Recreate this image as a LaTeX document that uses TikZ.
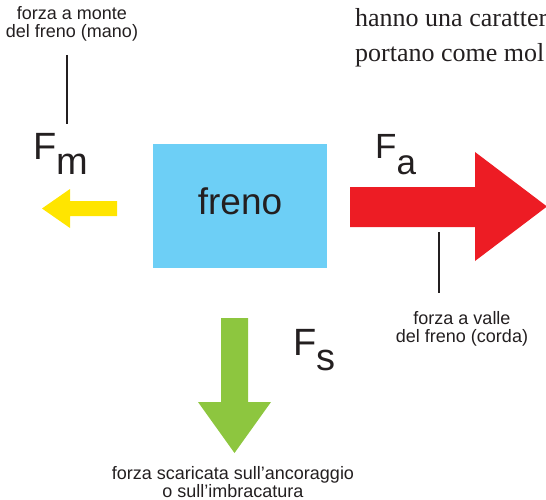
\documentclass[tikz,border=0pt]{standalone}
\usepackage{fontspec}
\setmainfont{Liberation Sans}
\newfontfamily\bookfont{Liberation Serif}
\usepackage{tikz}
\usetikzlibrary{positioning}

\definecolor{inkgray}{HTML}{231F20}
\definecolor{frenoblue}{HTML}{6DCFF6}
\definecolor{monteyellow}{HTML}{FFE500}
\definecolor{vallered}{HTML}{ED1C24}
\definecolor{scaricagreen}{HTML}{8DC63F}

\begin{document}
\begin{tikzpicture}[
  x=1pt, y=-1pt,
  every node/.style={inner sep=0pt,text=inkgray},
  note/.style={align=center,font=\fontsize{18}{18}\selectfont},
  force/.style={anchor=base west,font=\fontsize{38}{38}\selectfont},
  booktext/.style={anchor=base west,font=\bookfont\fontsize{26}{26}\selectfont},
  leader/.style={draw=inkgray,line width=1.1pt}
]
  \useasboundingbox (0,0) rectangle (546,500);

  % text of the page behind the figure
  \node[booktext] (riga1) at (355,27) {hanno una caratter};
  \node[booktext] (riga2) at (355,62) {portano come mol};

  % the brake
  \node[fill=frenoblue,minimum width=174pt,minimum height=124pt,
        text height=27pt,text depth=11pt,
        font=\fontsize{37}{37}\selectfont] (freno) at (240,206) {freno};

  % the three forces
  \fill[monteyellow] (117,201) -- (70,201) -- (70,189) -- (42,208.5)
    -- (70,228) -- (70,216) -- (117,216) -- cycle;
  \fill[vallered] (350,187) -- (475,187) -- (475,152) -- (547,206.5)
    -- (475,261) -- (475,227) -- (350,227) -- cycle;
  \fill[scaricagreen] (221,318) -- (248,318) -- (248,402) -- (271,402)
    -- (234.5,453) -- (198,402) -- (221,402) -- cycle;

  \node[force] (Fm) at (33,160) {F\raisebox{-15pt}{m}};
  \node[force,font=\fontsize{35}{35}\selectfont] (Fa) at (375,158) {F\raisebox{-17pt}{a}};
  \node[force] (Fs) at (293,355) {F\raisebox{-15pt}{s}};

  % labels
  \node[note] (monte) at (72,24) {forza a monte\\del freno (mano)};
  \node[note] (valle) at (462,329) {forza a valle\\del freno (corda)};
  \node[note] (scarica) at (233,482) {forza scaricata sull’ancoraggio\\o sull’imbracatura};

  \coordinate (m1) at (67,55);
  \coordinate (m2) at (67,124);
  \coordinate (v1) at (439,232);
  \coordinate (v2) at (439,293);
  \draw[leader] (m1) -- (m2);
  \draw[leader] (v1) -- (v2);
\end{tikzpicture}
\end{document}
